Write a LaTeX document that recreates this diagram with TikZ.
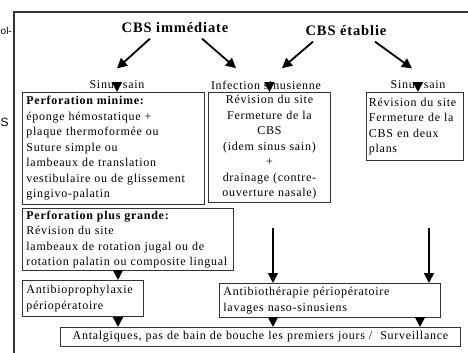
\documentclass[tikz,border=0pt]{standalone}
\usepackage{fontspec}
\setmainfont{Liberation Serif}[LetterSpace=6]
\setsansfont{Liberation Sans}
\usetikzlibrary{positioning}
\usetikzlibrary{arrows.meta}

\begin{document}
\begin{tikzpicture}[x=1pt,y=-1pt,
	txt/.style={font=\fontsize{12}{15.5}\selectfont},
	cadre/.style={txt,draw=black!80,line width=0.9pt,anchor=north west,inner xsep=4pt,inner ysep=2pt,align=left},
	titre/.style={font=\fontsize{14.5}{18}\selectfont\bfseries},
	fleche/.style={line width=1.8pt,-{Triangle[width=10pt,length=10pt]}}]
	\useasboundingbox (0,0) rectangle (468,353);
	\draw[line width=1.4pt,black!80] (14,353) -- (14,12) -- (468,12);		% bord de page
	\node[anchor=west,inner sep=0pt,font=\sffamily\fontsize{10}{12}\selectfont] (bord1) at (0.5,31) {ol-};
	\node[anchor=west,inner sep=0pt,font=\sffamily\fontsize{12}{14}\selectfont] (bord2) at (0.5,122) {S};
	% en-tetes
	\node[titre] (immediate) at (175,28) {CBS imm\'ediate};
	\node[titre] (etablie) at (346,31) {CBS \'etablie};
	\node[txt] (sain1) at (117,85) {Sinus sain};
	\node[txt] (infection) at (266,85) {Infection sinusienne};
	\node[txt] (sain2) at (418,85) {Sinus sain};
	% cadres
	\node[cadre,text width=174pt,minimum height=112pt] (minime) at (22,92)
		{\textbf{Perforation minime:}\\ \'eponge h\'emostatique +\\ plaque thermoform\'ee ou\\ Suture simple ou\\
		 lambeaux de translation\\ vestibulaire ou de glissement\\ gingivo-palatin};
	\node[cadre,text width=114pt,minimum height=110pt,align=center] (revision) at (208,92)
		{R\'evision du site\\ Fermeture de la\\ CBS\\ (idem sinus sain)\\ +\\ drainage (contre-\\ ouverture nasale)};
	\node[cadre,text width=92pt,minimum height=68pt,inner xsep=2.5pt] (plans) at (366,92)
		{R\'evision du site\\ Fermeture de la\\ CBS en deux\\ plans};
	\node[cadre,text width=203pt,minimum height=62pt] (grande) at (22,208)
		{\textbf{Perforation plus grande:}\\ R\'evision du site\\ lambeaux de rotation jugal ou de\\ rotation palatin ou composite lingual};
	\node[cadre,text width=113pt,minimum height=36pt] (prophylaxie) at (22,280)
		{Antibioprophylaxie\\ p\'eriop\'eratoire};
	\node[cadre,text width=213pt,minimum height=34pt] (therapie) at (219,283)
		{Antibioth\'erapie p\'eriop\'eratoire\\ lavages naso-sinusiens};
	\node[cadre,text width=392pt,minimum height=19pt,align=center] (antalgiques) at (60,327)
		{Antalgiques, pas de bain de bouche les premiers jours /\ \ Surveillance};
	% fleches
	\coordinate (x1) at (118,0);
	\coordinate (x2) at (273,0);
	\coordinate (x3) at (429,0);
	\coordinate (x4) at (420,0);
	\coordinate (haut2) at (273,228);
	\coordinate (haut3) at (429,228);
	\draw[fleche] ([xshift=-25pt,yshift=-2pt]immediate.south) -- ([yshift=9pt]sain1.north);
	\draw[fleche] ([xshift=27pt,yshift=-2pt]immediate.south) -- ([xshift=-30pt,yshift=9pt]infection.north);
	\draw[fleche] ([xshift=-33pt,yshift=-2pt]etablie.south) -- ([xshift=16pt,yshift=9pt]infection.north);
	\draw[fleche] ([xshift=29pt,yshift=-2pt]etablie.south) -- ([xshift=-6pt,yshift=9pt]sain2.north);
	\draw[fleche] ([yshift=3pt]sain1.south) -- (sain1.south |- minime.north);
	\draw[fleche] ([yshift=3pt]revision.north |- infection.south) -- (revision.north);
	\draw[fleche] ([yshift=3pt]sain2.south) -- (sain2.south |- plans.north);
	\draw[fleche] (haut2) -- (haut2 |- therapie.north);
	\draw[fleche] (haut3) -- (haut3 |- therapie.north);
	\draw[fleche] (grande.south -| x1) -- (prophylaxie.north -| x1);
	\draw[fleche] (prophylaxie.south -| x1) -- (antalgiques.north -| x1);
	\draw[fleche] (therapie.south -| x2) -- (antalgiques.north -| x2);
	\draw[fleche] (therapie.south -| x4) -- (antalgiques.north -| x4);
\end{tikzpicture}
\end{document}
